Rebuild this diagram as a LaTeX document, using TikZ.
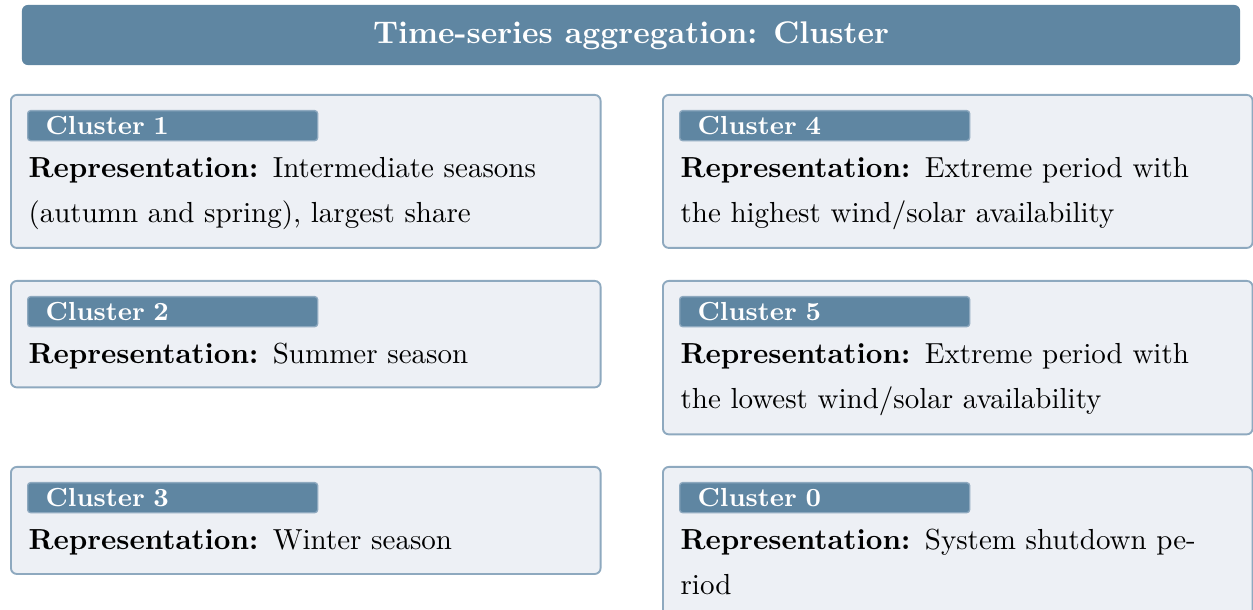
\documentclass[tikz,border=0pt]{standalone}
\definecolor{hdr}{HTML}{5F86A2}
\definecolor{boxfill}{HTML}{EDF0F5}
\definecolor{boxline}{HTML}{8EA9BF}
\begin{document}
\begin{tikzpicture}[x=0.3448pt,y=-0.3448pt,
  header/.style={fill=hdr, rounded corners=2pt, minimum width=420pt, minimum height=20.7pt,
    inner ysep=0pt, text=white, font=\fontsize{10.8}{13}\selectfont\bfseries,
    text height=7.72pt, text depth=2pt},
  panel/.style={draw=boxline, fill=boxfill, line width=0.65pt, rounded corners=2pt,
    anchor=north west, inner sep=0pt, minimum width=203.3pt},
  tag/.style={draw=boxline, fill=hdr, line width=0.45pt, rounded corners=1pt,
    anchor=north west, inner xsep=6.2pt, inner ysep=0pt, text width=87.6pt, align=left,
    text=white, font=\small\bfseries, text height=8.38pt, text depth=1.97pt},
  body/.style={anchor=base west, inner sep=0pt, text width=193pt, align=left,
    font=\fontsize{10}{15.5}\selectfont}]
\useasboundingbox (0,0) rectangle (1253,610);
\clip (0,0) rectangle (1253,610);
% header
\node[header] (title) at (631,35) {Time-series aggregation: Cluster};
% panels
\node[panel, minimum height=52.75pt] (p1) at (10,94) {};
\node[panel, minimum height=36.7pt]  (p2) at (10,280) {};
\node[panel, minimum height=36.9pt]  (p3) at (10,466) {};
\node[panel, minimum height=52.75pt] (p4) at (662,94) {};
\node[panel, minimum height=52.9pt]  (p5) at (662,280) {};
\node[panel, minimum height=56pt]    (p6) at (662,466) {};
% tags
\node[tag] (t1) at (27,110) {Cluster 1};
\node[tag] (t2) at (27,296) {Cluster 2};
\node[tag] (t3) at (27,482) {Cluster 3};
\node[tag] (t4) at (679,110) {Cluster 4};
\node[tag] (t5) at (679,296) {Cluster 5};
\node[tag] (t6) at (679,482) {Cluster 0};
% bodies
\node[body] (b1) at (28,178) {\textbf{Representation:} Intermediate seasons\\(autumn and spring), largest share};
\node[body] (b2) at (28,364) {\textbf{Representation:} Summer season};
\node[body] (b3) at (28,550) {\textbf{Representation:} Winter season};
\node[body] (b4) at (680,178) {\textbf{Representation:} Extreme period with\\the highest wind/solar availability};
\node[body] (b5) at (680,364) {\textbf{Representation:} Extreme period with\\the lowest wind/solar availability};
\node[body] (b6) at (680,550) {\textbf{Representation:} System shutdown pe-\\riod};
\end{tikzpicture}
\end{document}
